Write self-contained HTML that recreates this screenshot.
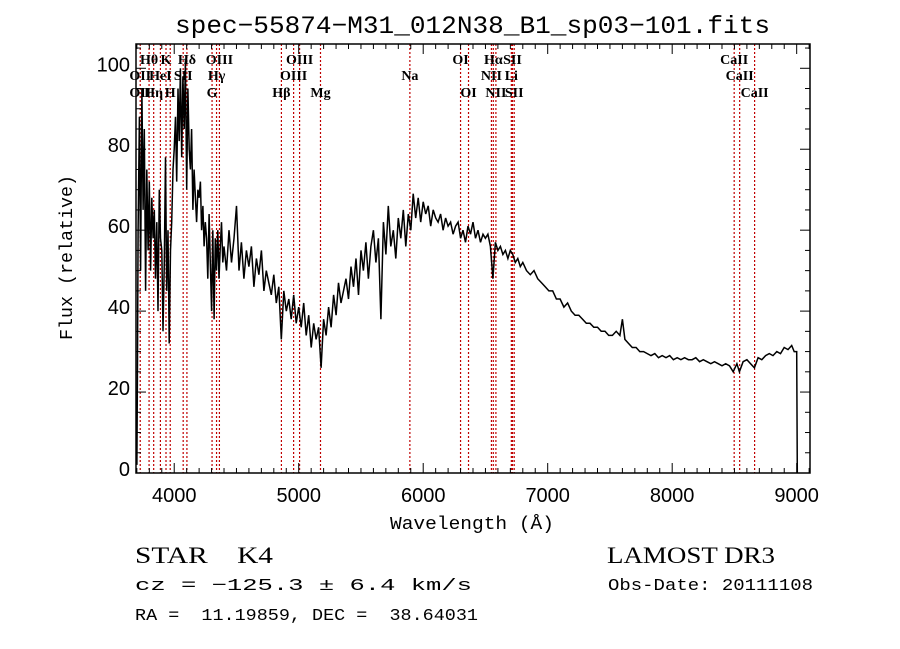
<!DOCTYPE html>
<html><head><meta charset="utf-8"><style>
body{margin:0;background:#fff;}
svg{display:block;}
text{fill:#000;}
</style></head><body>
<svg id="chart" width="900" height="649" viewBox="0 0 900 649" xmlns="http://www.w3.org/2000/svg">
<rect width="900" height="649" fill="#fff"/>
<text x="175" y="33" font-family="Liberation Mono, monospace" font-size="25" textLength="595" lengthAdjust="spacingAndGlyphs">spec−55874−M31_012N38_B1_sp03−101.fits</text>
<text x="390" y="529" font-family="Liberation Mono, monospace" font-size="18" textLength="164" lengthAdjust="spacingAndGlyphs">Wavelength (Å)</text>
<text transform="translate(72,340) rotate(-90)" font-family="Liberation Mono, monospace" font-size="18" textLength="165" lengthAdjust="spacingAndGlyphs">Flux (relative)</text>
<text x="135" y="563" font-family="Liberation Serif, serif" font-size="23" xml:space="preserve" textLength="138" lengthAdjust="spacingAndGlyphs">STAR    K4</text>
<text x="135" y="590" font-family="Liberation Mono, monospace" font-size="17" textLength="337" lengthAdjust="spacingAndGlyphs">cz = −125.3 ± 6.4 km/s</text>
<text x="135" y="620" font-family="Liberation Mono, monospace" font-size="17" xml:space="preserve" textLength="343" lengthAdjust="spacingAndGlyphs">RA =  11.19859, DEC =  38.64031</text>
<text x="607" y="563" font-family="Liberation Serif, serif" font-size="23" textLength="168" lengthAdjust="spacingAndGlyphs">LAMOST DR3</text>
<text x="608" y="590" font-family="Liberation Mono, monospace" font-size="17" textLength="205" lengthAdjust="spacingAndGlyphs">Obs-Date: 20111108</text>
<g id="plot"></g>
</svg>
<script>
const wavelengths = [3700,3705,3710,3720,3730,3740,3750,3760,3770,3780,3790,3800,3810,3820,3830,3840,3850,3860,3870,3880,3890,3900,3910,3920,3930,3940,3950,3960,3970,3980,3990,4000,4010,4020,4030,4040,4050,4060,4070,4080,4090,4100,4110,4120,4130,4140,4150,4160,4170,4180,4190,4200,4210,4220,4230,4240,4250,4260,4270,4280,4290,4300,4310,4320,4330,4340,4350,4360,4370,4380,4390,
4400,4420,4440,4460,4480,4500,4520,4540,4560,4580,4600,4620,4640,4660,4680,4700,4720,4740,4760,4780,4800,4820,4840,4860,4880,4900,4920,4940,4960,4980,5000,5020,5040,5060,5080,5100,5120,5140,5160,5180,5200,5220,5240,5260,5280,5300,5320,5340,5360,5380,5400,5420,5440,5460,5480,5500,5520,5540,5560,5580,5600,5620,5640,5660,5680,5700,5720,5740,5760,5780,5800,5820,5840,5860,5880,5900,5920,5940,5960,5980,6000,6020,6040,6060,6080,6100,6120,6140,6160,6180,6200,6220,6240,6260,6280,6300,6320,6340,6360,6380,6400,6420,6440,6460,6480,6500,6520,6540,6560,6580,6600,6620,6640,6660,6680,6700,6720,6740,6760,6780,6800,
6830,6860,6890,6920,6950,6980,7010,7040,7070,7100,7130,7160,7190,7220,7250,7280,7310,7340,7370,7400,7430,7460,7490,7520,7550,7580,7600,7620,7650,7680,7710,7740,7770,7800,7830,7860,7890,7920,7950,7980,8010,8040,8070,8100,8130,8160,8190,8220,8250,8280,8310,8340,8370,8400,8430,8460,8490,8520,8540,8570,8600,8630,8660,8690,8720,8750,8780,8810,8840,8870,8900,8930,8960,8980,9000,9005];
const flux = [2,28,60,88,50,95,65,85,45,75,55,72,50,68,58,65,48,62,40,70,58,55,35,52,78,45,60,32,55,62,75,80,88,72,95,82,100,78,98,85,102,70,95,80,75,85,65,75,68,62,70,68,72,60,66,56,62,58,48,64,52,40,60,38,58,50,60,48,56,62,52,
56,50,60,52,58,66,50,57,48,55,51,56,46,53,49,55,45,50,47,44,49,42,46,33,45,40,43,38,44,37,41,36,42,34,39,31,37,33,36,26,38,34,41,36,44,39,47,42,45,48,43,51,46,53,44,55,50,57,48,56,60,52,58,38,62,54,66,56,60,53,63,58,65,56,64,60,69,63,68,62,67,64,66,61,65,63,62,64,60,63,61,62,59,61,62,58,60,57,61,59,62,58,60,57,59,58,59,56,48,57,55,56,54,55,53,55,54,52,53,51,52,
50,49,50,48,47,46,45,45,43,43,41,42,40,39,39,38,37,37,36,36,35,35,34,34,35,34,38,33,32,31,31,30,30,29.5,29,29.5,28.5,29,28.5,29,28,28.5,28,28.5,28,28,28.5,27.5,28,27.5,27,27.5,27,26.5,27,26.5,25,27,25,27.5,28,27,26,28.5,28,29,29.5,29,30,29.5,31,30.5,31.5,30,30,0];
const xTicks = [4000,5000,6000,7000,8000,9000];
const yTicks = [0,20,40,60,80,100];
const lineWaves = [3727,3798,3835,3889,3934,3968,4072,4102,4304,4340,4363,4861,4959,5007,5175,5893,6300,6364,6548,6563,6584,6708,6717,6731,8498,8542,8662];
const lineLabels = [["Hθ",3798,1],["K",3934,1],["Hδ",4102,1],["OIII",4363,1],["OIII",5007,1],["OI",6300,1],["Hα",6563,1],["SII",6717,1],["CaII",8498,1],
["OII",3727,2],["HeI",3889,2],["SII",4072,2],["Hγ",4340,2],["OIII",4959,2],["Na",5893,2],["NII",6548,2],["Li",6708,2],["CaII",8542,2],
["OII",3727,3],["Hη",3835,3],["H",3968,3],["G",4304,3],["Hβ",4861,3],["Mg",5175,3],["OI",6364,3],["NII",6584,3],["SII",6731,3],["CaII",8662,3]];

const L=136,R=810,T=44,B=473;
const xMin=3693,xMax=9107,yMin=0,yMax=106;
const sx=v=>L+(v-xMin)/(xMax-xMin)*(R-L);
const sy=v=>B-(v-yMin)/(yMax-yMin)*(B-T);
const NS="http://www.w3.org/2000/svg";
const g=document.getElementById('plot');
function mk(tag,attrs){const e=document.createElementNS(NS,tag);for(const k in attrs)e.setAttribute(k,attrs[k]);g.appendChild(e);return e;}

lineWaves.forEach(w=>{
  const e=mk('line',{x1:sx(w),x2:sx(w),y1:T,y2:B,stroke:'#c00000','stroke-width':1.2,'stroke-dasharray':'2,2'});
  
  
});
lineLabels.forEach(l=>{
  const yy=[0,64,80,97][l[2]];
  const t=mk('text',{x:sx(l[1]),y:yy,'font-family':'Liberation Serif, serif','font-size':14,'font-weight':'bold','text-anchor':'middle'});
  t.textContent=l[0];
  
  
});

let d='';
wavelengths.forEach((w,i)=>{d+=(i?'L':'M')+sx(w).toFixed(1)+','+sy(flux[i]).toFixed(1);});
const p=mk('path',{d:d,fill:'none',stroke:'#000','stroke-width':1.5});



const fr=mk('rect',{x:L,y:T,width:R-L,height:B-T,fill:'none',stroke:'#000','stroke-width':1.5});



for(let w=3700;w<=9100;w+=100){
  const major=w%1000===0, len=major?10:5;
  [[B,B-len],[T,T+len]].forEach(([a,b])=>{
    const tk=mk('line',{x1:sx(w),x2:sx(w),y1:a,y2:b,stroke:'#000','stroke-width':1});
    
    
  });
}
xTicks.forEach(w=>{
  const t=mk('text',{x:sx(w),y:B+29,'font-family':'Liberation Sans, sans-serif','font-size':20,'text-anchor':'middle'});
  t.textContent=w;
  
  
});
for(let v=0;v<=105;v+=5){
  const major=v%20===0, len=major?10:5;
  [[L,L+len],[R,R-len]].forEach(([a,b])=>{
    const tk=mk('line',{x1:a,x2:b,y1:sy(v),y2:sy(v),stroke:'#000','stroke-width':1});
    
    
  });
}
yTicks.forEach(v=>{
  const t=mk('text',{x:L-6,y:sy(v)+3,'font-family':'Liberation Sans, sans-serif','font-size':20,'text-anchor':'end'});
  t.textContent=v;
  
  
});
</script>
</body></html>
